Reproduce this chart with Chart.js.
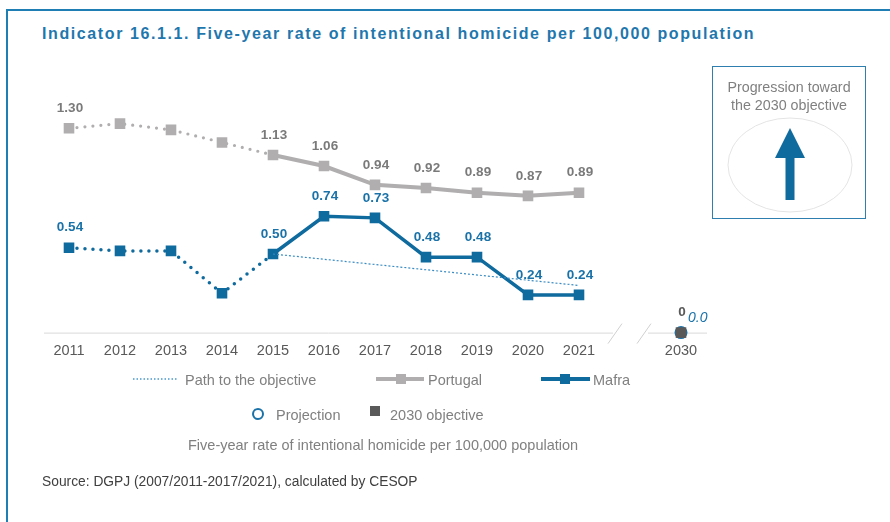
<!DOCTYPE html>
<html>
<head>
<meta charset="utf-8">
<script src="https://cdn.jsdelivr.net/npm/chart.js@4"></script>
<style>
  html, body { margin: 0; padding: 0; background: #fff; }
  body { width: 890px; height: 522px; position: relative; overflow: hidden; font-family: "Liberation Sans", Arial, sans-serif; }
  #frame { position: absolute; left: 6px; top: 9px; right: -10px; bottom: -10px; border-top: 2px solid #1f7fb5; border-left: 2px solid #1f7fb5; }
  #title { position: absolute; left: 42px; top: 25px; font-size: 16px; font-weight: bold; color: #1f77ad; letter-spacing: 1.6px; white-space: nowrap; }
  #chart { position: absolute; left: 0; top: 0; }
  #box { position: absolute; left: 712px; top: 66px; width: 152px; height: 151px; border: 1.5px solid #2e7fb0; }
  #box .txt { position: absolute; left: -10px; right: -10px; top: 11px; text-align: center; font-size: 14.3px; line-height: 18px; color: #808080; }
  #box svg { position: absolute; left: 0; top: 0; }
  .lg { position: absolute; font-size: 14.5px; color: #808080; white-space: nowrap; line-height: 17px; }
  #source { position: absolute; left: 42px; top: 474px; font-size: 13.8px; color: #404040; white-space: nowrap; }
</style>
</head>
<body>
<div id="frame"></div>
<div id="title">Indicator 16.1.1. Five-year rate of intentional homicide per 100,000 population</div>
<canvas id="chart" width="890" height="522"></canvas>

<div id="box">
  <svg width="152" height="151">
    <ellipse cx="77" cy="98" rx="62" ry="47" fill="none" stroke="#e4e4e4" stroke-width="1"/>
    <polygon points="77,61 62,91 72.5,91 72.5,133 81.5,133 81.5,91 92,91" fill="#0f6a9e"/>
  </svg>
  <div class="txt">Progression toward<br>the 2030 objective</div>
</div>

<!-- legend -->
<svg style="position:absolute;left:0;top:0" width="890" height="522">
  <line x1="133" y1="379" x2="177" y2="379" stroke="#4a98cc" stroke-width="1.5" stroke-dasharray="1.5,2"/>
  <line x1="376" y1="379" x2="424" y2="379" stroke="#b0aeae" stroke-width="4"/>
  <rect x="396" y="374" width="10" height="10" fill="#b0aeae"/>
  <line x1="541" y1="379" x2="590" y2="379" stroke="#0f6a9e" stroke-width="4"/>
  <rect x="560" y="374" width="10" height="10" fill="#0f6a9e"/>
  <circle cx="258" cy="414" r="5" fill="none" stroke="#1a72a8" stroke-width="2"/>
  <rect x="370" y="406" width="10" height="10" fill="#595959"/>
</svg>
<div class="lg" style="left:185px;top:371.5px">Path to the objective</div>
<div class="lg" style="left:428px;top:371.5px">Portugal</div>
<div class="lg" style="left:593px;top:371.5px">Mafra</div>
<div class="lg" style="left:276px;top:407px">Projection</div>
<div class="lg" style="left:390px;top:407px">2030 objective</div>
<div class="lg" style="left:188px;top:437px">Five-year rate of intentional homicide per 100,000 population</div>
<div id="source">Source: DGPJ (2007/2011-2017/2021), calculated by CESOP</div>

<script>
const years = ['2011', '2012', '2013', '2014', '2015', '2016', '2017', '2018', '2019', '2020', '2021', '', '2030'];
const portugal = [1.30, 1.33, 1.29, 1.21, 1.13, 1.06, 0.94, 0.92, 0.89, 0.87, 0.89, null, null];
const mafra = [0.54, 0.52, 0.52, 0.25, 0.50, 0.74, 0.73, 0.48, 0.48, 0.24, 0.24, null, null];
const pathToObjective = [null, null, null, null, 0.50, null, null, null, null, null, 0.30, null, null];
const objective2030 = [null, null, null, null, null, null, null, null, null, null, null, null, 0];
const projection = [null, null, null, null, null, null, null, null, null, null, null, null, 0];
// which points get a value label
const portugalShown = [0, 4, 5, 6, 7, 8, 9, 10];
const mafraShown = [0, 4, 5, 6, 7, 8, 9, 10];

const GREY = '#b0aeae';
const BLUE = '#0f6a9e';

const dotted = (ctx, a, b) => ctx.p1DataIndex <= 4 ? a : b;

const valueLabels = {
  id: 'valueLabels',
  afterDatasetsDraw(chart) {
    const c = chart.ctx;
    c.save();
    c.textAlign = 'center';
    c.textBaseline = 'middle';
    c.font = 'bold 13.5px "Liberation Sans", Arial, sans-serif';
    const draw = (dsIndex, shown, color) => {
      const meta = chart.getDatasetMeta(dsIndex);
      const data = chart.data.datasets[dsIndex].data;
      c.fillStyle = color;
      shown.forEach(i => {
        const el = meta.data[i];
        c.fillText(data[i].toFixed(2), el.x + 1, el.y - 20);
      });
    };
    draw(1, portugalShown, '#7a7a7a');
    draw(2, mafraShown, '#1a72a8');
    // 2030 objective
    const el = chart.getDatasetMeta(3).data[12];
    c.fillStyle = '#595959';
    c.fillText(String(objective2030[12]), el.x + 1, el.y - 20);
    c.fillStyle = '#1a72a8';
    c.textAlign = 'left';
    c.font = 'italic 14px "Liberation Sans", Arial, sans-serif';
    c.fillText(projection[12].toFixed(1), el.x + 7, el.y - 14);
    c.restore();
  }
};

const brokenAxis = {
  id: 'brokenAxis',
  beforeDatasetsDraw(chart) {
    const c = chart.ctx;
    const x = chart.scales.x;
    const y0 = chart.scales.y.getPixelForValue(0);
    const x21 = x.getPixelForValue(10);
    const x30 = x.getPixelForValue(12);
    c.save();
    c.strokeStyle = '#d9d9d9';
    c.lineWidth = 1;
    c.beginPath();
    c.moveTo(44, y0 + 0.5);
    c.lineTo(x21 + 34, y0 + 0.5);
    c.moveTo(x30 - 33, y0 + 0.5);
    c.lineTo(x30 + 26, y0 + 0.5);
    c.stroke();
    c.strokeStyle = '#d0d0d0';
    c.beginPath();
    c.moveTo(x21 + 29, y0 + 11);
    c.lineTo(x21 + 43, y0 - 9);
    c.moveTo(x21 + 58, y0 + 11);
    c.lineTo(x21 + 72, y0 - 9);
    c.stroke();
    c.restore();
  }
};

new Chart(document.getElementById('chart'), {
  type: 'line',
  data: {
    labels: years,
    datasets: [
      {
        label: 'Path to the objective',
        data: pathToObjective,
        spanGaps: true,
        borderColor: '#3a8cc4',
        borderWidth: 1.2,
        borderDash: [2, 2],
        pointRadius: 0
      },
      {
        label: 'Portugal',
        data: portugal,
        borderColor: GREY,
        backgroundColor: GREY,
        borderWidth: 4,
        pointStyle: 'rect',
        pointRadius: 7.5,
        pointBorderWidth: 0,
        segment: {
          borderDash: ctx => dotted(ctx, [0, 8], []),
          borderWidth: ctx => dotted(ctx, 3.2, 4),
          borderCapStyle: ctx => dotted(ctx, 'round', 'butt')
        }
      },
      {
        label: 'Mafra',
        data: mafra,
        borderColor: BLUE,
        backgroundColor: BLUE,
        borderWidth: 3.5,
        pointStyle: 'rect',
        pointRadius: 7.5,
        pointBorderWidth: 0,
        segment: {
          borderDash: ctx => dotted(ctx, [0, 8], []),
          borderWidth: ctx => dotted(ctx, 3.5, 3.5),
          borderCapStyle: ctx => dotted(ctx, 'round', 'butt')
        }
      },
      {
        label: '2030 objective',
        data: objective2030,
        showLine: false,
        clip: false,
        pointStyle: 'rect',
        pointRadius: 7.5,
        pointBorderWidth: 0,
        backgroundColor: '#595959'
      },
      {
        label: 'Projection',
        data: projection,
        showLine: false,
        clip: false,
        pointStyle: 'circle',
        pointRadius: 5.5,
        pointBorderWidth: 2,
        borderColor: '#1a72a8',
        backgroundColor: '#ffffff'
      }
    ]
  },
  options: {
    responsive: false,
    animation: false,
    layout: { padding: { left: 69, right: 209, top: 100, bottom: 152 } },
    plugins: { legend: { display: false }, tooltip: { enabled: false } },
    scales: {
      x: {
        offset: false,
        grid: { display: false, drawTicks: false },
        border: { display: false },
        ticks: {
          padding: 10,
          color: '#595959',
          font: { size: 14.5, family: '"Liberation Sans", Arial, sans-serif' },
          maxRotation: 0,
          autoSkip: false
        }
      },
      y: {
        display: false,
        min: 0,
        max: 1.48
      }
    }
  },
  plugins: [brokenAxis, valueLabels]
});
</script>
</body>
</html>
